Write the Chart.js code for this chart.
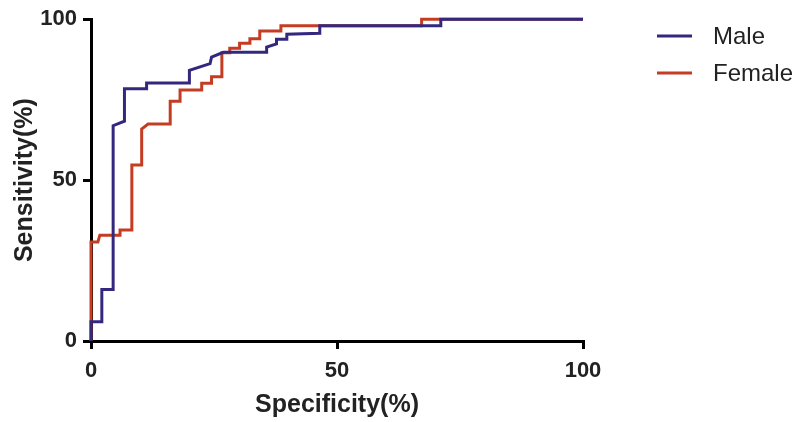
<!DOCTYPE html>
<html>
<head>
<meta charset="utf-8">
<script src="https://cdn.jsdelivr.net/npm/chart.js@4"></script>
<style>
  html, body { margin: 0; padding: 0; background: #fff; }
  #wrap { width: 800px; height: 422px; }
</style>
</head>
<body>
<div id="wrap"><canvas id="roc" width="800" height="422"></canvas></div>
<script>
// ROC curves, values
const seriesNames = ['Male', 'Female'];
const seriesColors = ['#33287e', '#c43d22'];
const axisTicks = [0, 50, 100];

const maleSpec = [0, 0, 2.2, 2.2, 4.5, 4.5, 6.8, 6.8, 11.3, 11.3, 20, 20, 24.2, 24.5, 26.9, 35.7, 35.7, 37.7, 37.7, 39.8, 39.8, 46.5, 46.5, 71.1, 71.1, 100];
const maleSens = [0, 6, 6, 16, 16, 66.9, 68.3, 78.4, 78.4, 80.2, 80.2, 84.1, 86.2, 88.2, 89.7, 89.7, 91.3, 92.3, 93.8, 93.8, 95.3, 95.6, 98, 98, 100, 100];

const femaleSpec = [0, 0, 1.4, 1.8, 5.9, 5.9, 8.3, 8.3, 10.3, 10.3, 11.6, 16.1, 16.1, 18.1, 18.1, 22.5, 22.5, 24.5, 24.5, 26.6, 26.6, 28.2, 28.2, 30.2, 30.2, 32.3, 32.3, 34.3, 34.3, 38.6, 38.6, 67.2, 67.2, 100];
const femaleSens = [0, 30.8, 30.8, 32.9, 32.9, 34.5, 34.5, 54.7, 54.7, 65.9, 67.4, 67.4, 74.5, 74.5, 78, 78, 80.1, 80.1, 82.1, 82.1, 89.6, 89.6, 91, 91, 92.5, 92.5, 93.9, 93.9, 96.3, 96.3, 98, 98, 100, 100];

function toPoints(xs, ys) {
    return xs.map((x, i) => ({ x: x, y: ys[i] }));
}

// legend drawn at the right like the original figure
const sideLegend = {
    id: 'sideLegend',
    afterDraw(chart) {
        const ctx = chart.ctx;
        ctx.save();
        chart.data.datasets.forEach((ds, i) => {
            const y = 36 + i * 37;
            ctx.strokeStyle = ds.borderColor;
            ctx.lineWidth = 3;
            ctx.beginPath();
            ctx.moveTo(657, y);
            ctx.lineTo(692, y);
            ctx.stroke();
            ctx.fillStyle = '#222';
            ctx.font = '24px "Liberation Sans", Arial, sans-serif';
            ctx.textBaseline = 'middle';
            ctx.fillText(ds.label, 713, y + 1);
        });
        ctx.restore();
    }
};

const ctx = document.getElementById('roc').getContext('2d');
new Chart(ctx, {
    type: 'scatter',
    data: {
        datasets: [{
            label: seriesNames[0],
            data: toPoints(maleSpec, maleSens),
            showLine: true,
            borderColor: seriesColors[0],
            borderWidth: 3,
            pointRadius: 0,
            fill: false,
            clip: 6
        }, {
            label: seriesNames[1],
            data: toPoints(femaleSpec, femaleSens),
            showLine: true,
            borderColor: seriesColors[1],
            borderWidth: 3,
            pointRadius: 0,
            fill: false,
            clip: 6
        }]
    },
    options: {
        responsive: false,
        animation: false,
        layout: { padding: { top: 13, right: 217, left: 0, bottom: 0 } },
        plugins: {
            legend: { display: false },
            tooltip: { enabled: false }
        },
        scales: {
            x: {
                type: 'linear',
                min: 0,
                max: 100,
                afterFit: s => { s.height = 81; },
                afterBuildTicks: s => { s.ticks = axisTicks.map(v => ({ value: v })); },
                border: { color: '#000', width: 3 },
                grid: { drawOnChartArea: false, drawTicks: true, tickLength: 8, tickColor: '#000', lineWidth: 3 },
                ticks: { color: '#222', padding: 9, maxRotation: 0, font: { family: '"Liberation Sans", Arial', size: 22, weight: 'bold' } },
                title: { display: true, text: 'Specificity(%)', color: '#222', padding: { top: 0, bottom: 2 }, font: { family: '"Liberation Sans", Arial', size: 25, weight: 'bold' } }
            },
            y: {
                type: 'linear',
                min: 0,
                max: 100,
                afterFit: s => { s.width = 91; },
                afterBuildTicks: s => { s.ticks = axisTicks.map(v => ({ value: v })); },
                border: { color: '#000', width: 3 },
                grid: { drawOnChartArea: false, drawTicks: true, tickLength: 8, tickColor: '#000', lineWidth: 3 },
                ticks: { color: '#222', padding: 6, font: { family: '"Liberation Sans", Arial', size: 22, weight: 'bold' } },
                title: { display: true, text: 'Sensitivity(%)', color: '#222', padding: { top: 10, bottom: 0 }, font: { family: '"Liberation Sans", Arial', size: 25, weight: 'bold' } }
            }
        }
    },
    plugins: [sideLegend]
});
</script>
</body>
</html>
